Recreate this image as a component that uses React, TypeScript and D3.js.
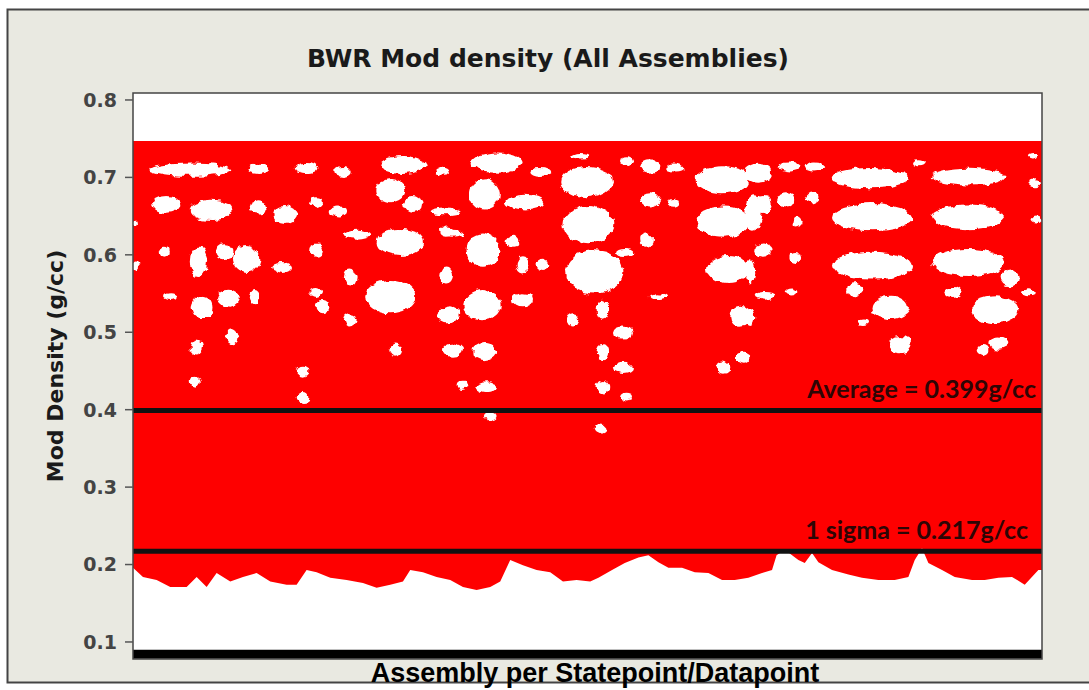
import React from 'react';
import * as d3 from 'd3';

// y axis ticks (g/cc)
const yTicks = [0.1, 0.2, 0.3, 0.4, 0.5, 0.6, 0.7, 0.8];

// reference lines
const average = 0.399;
const sigma = 0.217;
const averageLabel = 'Average = 0.399g/cc';
const sigmaLabel = '1 sigma = 0.217g/cc';

// the cloud of points reaches up to this density everywhere
const cloudTop = 0.747;
// row of points sitting on the floor of the plot
const floorValue = 0.084;

// lowest density of the cloud along the datapoints (index 0..100)
const lowerEdge: [number, number][] = [
  [0, 0.196], [1.1, 0.184], [2.6, 0.18], [4.1, 0.171], [5.9, 0.171], [7.0, 0.184], [8.1, 0.171],
  [9.2, 0.189], [10.7, 0.178], [12.1, 0.184], [13.6, 0.189], [15.1, 0.178], [16.9, 0.174], [18.0, 0.174],
  [19.1, 0.193], [20.2, 0.19], [21.7, 0.183], [23.5, 0.18], [25.3, 0.176], [26.8, 0.17], [28.3, 0.174],
  [29.7, 0.178], [30.5, 0.193], [31.9, 0.19], [33.4, 0.184], [34.9, 0.18], [36.3, 0.171], [37.8, 0.167],
  [39.3, 0.171], [40.4, 0.178], [41.5, 0.206], [42.9, 0.199], [44.4, 0.193], [45.9, 0.19], [47.3, 0.178],
  [48.8, 0.18], [50.3, 0.178], [51.2, 0.183], [52.7, 0.193], [54.1, 0.202], [55.6, 0.209], [56.7, 0.212],
  [57.8, 0.203], [58.9, 0.196], [60.4, 0.196], [61.8, 0.19], [63.3, 0.189], [64.8, 0.18], [66.2, 0.18],
  [67.7, 0.183], [69.2, 0.189], [70.3, 0.193], [70.8, 0.212], [71.7, 0.219], [73.2, 0.206], [73.9, 0.202],
  [74.7, 0.215], [75.4, 0.203], [76.9, 0.193], [78.7, 0.187], [80.2, 0.183], [82.0, 0.18], [83.8, 0.18],
  [85.3, 0.184], [86.0, 0.206], [86.8, 0.221], [87.5, 0.202], [89.0, 0.193], [90.4, 0.184], [92.3, 0.18],
  [93.7, 0.18], [95.2, 0.183], [96.7, 0.184], [98.1, 0.174], [99.6, 0.193], [100, 0.193],
];

// empty pockets inside the cloud: [datapoint, density, width, height]
const gaps: [number, number, number, number][] = [
  [6.3, 0.71, 8.8, 0.016], [13.9, 0.711, 2.4, 0.013], [19.1, 0.712, 2.4, 0.013], [23.1, 0.707, 1.7, 0.013],
  [29.7, 0.716, 5.0, 0.023], [34.1, 0.708, 1.4, 0.009], [28.3, 0.683, 3.3, 0.03], [3.7, 0.665, 3.0, 0.022],
  [8.6, 0.658, 4.7, 0.026], [13.8, 0.662, 1.9, 0.017], [16.7, 0.652, 2.5, 0.022], [20.2, 0.668, 1.4, 0.013],
  [22.6, 0.656, 1.9, 0.013], [30.8, 0.665, 2.2, 0.022], [34.3, 0.656, 3.3, 0.01], [24.6, 0.626, 3.0, 0.013],
  [29.4, 0.616, 5.2, 0.035], [35.1, 0.628, 2.5, 0.009], [7.2, 0.591, 1.9, 0.039], [10.1, 0.604, 1.9, 0.022],
  [12.5, 0.594, 3.0, 0.035], [3.5, 0.604, 1.1, 0.013], [16.4, 0.583, 2.2, 0.013], [20.2, 0.606, 1.4, 0.017],
  [23.9, 0.57, 1.4, 0.022], [28.3, 0.546, 5.5, 0.043], [34.5, 0.52, 2.2, 0.017], [34.4, 0.572, 1.4, 0.017],
  [7.6, 0.532, 2.5, 0.03], [10.5, 0.544, 2.5, 0.022], [4.1, 0.546, 1.4, 0.009], [13.4, 0.546, 1.1, 0.017],
  [20.1, 0.552, 1.4, 0.013], [20.9, 0.533, 1.4, 0.017], [23.9, 0.516, 1.4, 0.017], [28.9, 0.477, 1.4, 0.017],
  [7.0, 0.481, 1.4, 0.017], [11.0, 0.494, 1.4, 0.017], [6.8, 0.436, 1.1, 0.013], [18.7, 0.449, 1.4, 0.013],
  [18.7, 0.415, 1.4, 0.013], [35.2, 0.477, 2.2, 0.017], [36.3, 0.432, 1.4, 0.013], [40.0, 0.719, 5.5, 0.026],
  [44.8, 0.707, 2.2, 0.013], [49.2, 0.728, 2.2, 0.007], [49.9, 0.694, 5.8, 0.039], [54.3, 0.721, 1.4, 0.01],
  [56.9, 0.714, 2.2, 0.016], [59.6, 0.712, 1.9, 0.009], [64.9, 0.697, 5.8, 0.035], [38.7, 0.678, 3.3, 0.039],
  [43.1, 0.668, 4.1, 0.019], [50.1, 0.639, 5.5, 0.048], [56.9, 0.671, 2.2, 0.017], [59.4, 0.667, 1.4, 0.01],
  [64.9, 0.643, 5.8, 0.039], [38.5, 0.606, 3.6, 0.043], [41.8, 0.617, 1.4, 0.013], [34.5, 0.63, 1.4, 0.013],
  [54.1, 0.603, 1.9, 0.009], [56.5, 0.619, 1.4, 0.017], [50.8, 0.578, 6.3, 0.056], [65.5, 0.581, 4.7, 0.035],
  [42.9, 0.587, 1.4, 0.022], [45.1, 0.587, 1.4, 0.013], [34.5, 0.574, 1.4, 0.022], [38.4, 0.535, 4.1, 0.039],
  [34.9, 0.525, 2.2, 0.017], [42.9, 0.542, 2.2, 0.017], [48.4, 0.516, 1.4, 0.017], [51.7, 0.529, 1.4, 0.026],
  [53.9, 0.499, 2.2, 0.017], [57.8, 0.546, 1.9, 0.009], [66.8, 0.52, 2.2, 0.026], [38.7, 0.475, 2.5, 0.022],
  [51.7, 0.475, 1.4, 0.022], [53.9, 0.454, 2.2, 0.013], [38.9, 0.429, 2.2, 0.013], [51.7, 0.429, 1.4, 0.016],
  [64.9, 0.455, 1.4, 0.017], [67.1, 0.467, 1.4, 0.013], [54.3, 0.417, 1.4, 0.01], [68.8, 0.706, 3.0, 0.026],
  [72.2, 0.714, 2.5, 0.013], [75.0, 0.714, 2.2, 0.013], [81.1, 0.699, 8.5, 0.026], [86.4, 0.719, 1.4, 0.009],
  [91.9, 0.701, 8.0, 0.023], [99.2, 0.693, 1.4, 0.009], [99.0, 0.728, 1.1, 0.007], [68.2, 0.654, 1.9, 0.043],
  [71.9, 0.671, 1.9, 0.017], [74.7, 0.674, 1.4, 0.013], [69.3, 0.665, 1.9, 0.022], [81.3, 0.648, 8.8, 0.035],
  [91.9, 0.649, 8.0, 0.032], [99.4, 0.645, 1.1, 0.009], [73.0, 0.643, 1.1, 0.013], [69.3, 0.606, 1.9, 0.017],
  [72.8, 0.596, 1.4, 0.013], [81.3, 0.586, 8.8, 0.036], [91.9, 0.59, 8.0, 0.035], [67.9, 0.578, 1.1, 0.03],
  [96.5, 0.57, 1.9, 0.022], [79.5, 0.555, 1.9, 0.017], [83.3, 0.532, 4.1, 0.03], [90.2, 0.552, 1.9, 0.013],
  [94.8, 0.529, 5.2, 0.035], [69.5, 0.547, 2.2, 0.01], [72.5, 0.552, 1.4, 0.009], [67.9, 0.519, 1.1, 0.022],
  [84.4, 0.484, 2.5, 0.022], [93.4, 0.477, 1.4, 0.013], [95.2, 0.486, 2.2, 0.017], [98.5, 0.551, 1.4, 0.009],
  [80.3, 0.513, 1.1, 0.007], [0.3, 0.641, 0.7, 0.01], [0.3, 0.585, 0.7, 0.013], [39.3, 0.392, 1.4, 0.01],
  [51.4, 0.376, 1.4, 0.012],
];

const App = () => {
  const totalWidth = 1089;
  const totalHeight = 690;
  const plot = { left: 133, right: 1042, top: 93, bottom: 659 };

  const xScale = d3.scaleLinear().domain([0, 100]).range([plot.left, plot.right]);
  const yScale = d3.scaleLinear().domain([0.078, 0.809]).range([plot.bottom, plot.top]);

  const cloud = d3.area<[number, number]>()
    .x(d => xScale(d[0]))
    .y0(d => yScale(d[1]))
    .y1(() => yScale(cloudTop));

  const font = "'DejaVu Sans', Tahoma, sans-serif";

  return (
    <svg width={totalWidth} height={totalHeight}
      style={{ position: 'absolute', left: 0, top: 0, background: '#fff' }}>
      <defs>
        {/* roughen the outline of the empty pockets, like gaps between markers */}
        <filter id="rough" x="-20%" y="-20%" width="140%" height="140%">
          <feTurbulence type="fractalNoise" baseFrequency="0.12" numOctaves={2} seed={3} />
          <feDisplacementMap in="SourceGraphic" scale={7} xChannelSelector="R" yChannelSelector="G" />
        </filter>
        <clipPath id="plot-clip">
          <rect x={plot.left} y={plot.top} width={plot.right - plot.left} height={plot.bottom - plot.top} />
        </clipPath>
      </defs>

      {/* chart frame */}
      <rect x={7.5} y={9.5} width={1090} height={673} fill="#e9e9e1" stroke="#444" strokeWidth={2} />

      {/* title */}
      <text x={548} y={67} textAnchor="middle" fontFamily={font}
        fontWeight="bold" fontSize={25} fill="#1a1a1a">BWR Mod density (All Assemblies)</text>

      {/* plot area */}
      <rect x={plot.left} y={plot.top} width={plot.right - plot.left} height={plot.bottom - plot.top} fill="#fff" />
      <g clipPath="url(#plot-clip)">
        <path d={cloud(lowerEdge) || ''} fill="#fe0000" />
        <g filter="url(#rough)">
          {gaps.map((g, i) => (
            <ellipse key={i} cx={xScale(g[0])} cy={yScale(g[1])}
              rx={(xScale(g[2]) - xScale(0)) / 2} ry={(yScale(0) - yScale(g[3])) / 2} fill="#fff" />
          ))}
        </g>
      </g>

      {/* floor row */}
      <line x1={xScale(0)} x2={xScale(100)} y1={yScale(floorValue)} y2={yScale(floorValue)} stroke="#000" strokeWidth={9} />

      {/* average and sigma lines */}
      <line x1={xScale(0)} x2={xScale(100)} y1={yScale(average)} y2={yScale(average)} stroke="#111" strokeWidth={5} />
      <line x1={xScale(0)} x2={xScale(100)} y1={yScale(sigma)} y2={yScale(sigma)} stroke="#111" strokeWidth={5} />
      <text x={1036} y={yScale(average) - 12} textAnchor="end" fontFamily="Lato, sans-serif" fontWeight="bold"
        fontSize={25} fill="#2e0505">{averageLabel}</text>
      <text x={1028} y={yScale(sigma) - 12} textAnchor="end" fontFamily="Lato, sans-serif" fontWeight="bold"
        fontSize={25} fill="#2e0505">{sigmaLabel}</text>

      <rect x={plot.left} y={plot.top} width={plot.right - plot.left} height={plot.bottom - plot.top}
        fill="none" stroke="#444" strokeWidth={1.5} />

      {/* y axis */}
      {yTicks.map(t => (
        <g key={t} transform={`translate(0,${yScale(t)})`}>
          <line x1={125} x2={plot.left} stroke="#555" strokeWidth={1.5} />
          <text x={117} dy="0.36em" textAnchor="end" fontFamily={font}
            fontWeight="bold" fontSize={19} fill="#444">{t.toFixed(1)}</text>
        </g>
      ))}
      <text transform={`translate(63,${366}) rotate(-90)`} textAnchor="middle" fontFamily={font}
        fontWeight="bold" fontSize={22} fill="#1a1a1a">Mod Density (g/cc)</text>

      {/* x axis label */}
      <text x={595} y={682} textAnchor="middle" fontFamily="'Liberation Sans', Arial, sans-serif"
        fontWeight="bold" fontSize={27} fill="#000">Assembly per Statepoint/Datapoint</text>
    </svg>
  );
};

export default App;
